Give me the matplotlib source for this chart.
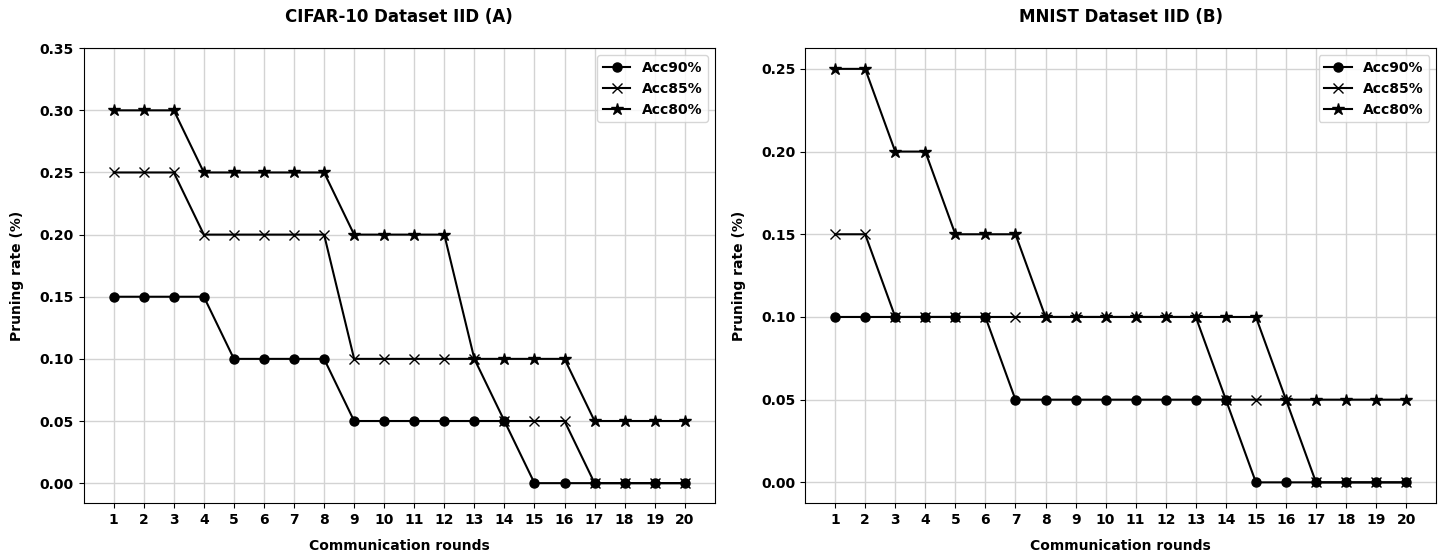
import matplotlib.pyplot as plt

rounds = list(range(1, 21))

# CIFAR-10 pruning rates
cifar_acc90 = [0.15, 0.15, 0.15, 0.15, 0.10, 0.10, 0.10, 0.10, 0.05, 0.05,
               0.05, 0.05, 0.05, 0.05, 0.00, 0.00, 0.00, 0.00, 0.00, 0.00]
cifar_acc85 = [0.25, 0.25, 0.25, 0.20, 0.20, 0.20, 0.20, 0.20, 0.10, 0.10,
               0.10, 0.10, 0.10, 0.05, 0.05, 0.05, 0.00, 0.00, 0.00, 0.00]
cifar_acc80 = [0.30, 0.30, 0.30, 0.25, 0.25, 0.25, 0.25, 0.25, 0.20, 0.20,
               0.20, 0.20, 0.10, 0.10, 0.10, 0.10, 0.05, 0.05, 0.05, 0.05]

# MNIST pruning rates
mnist_acc90 = [0.10, 0.10, 0.10, 0.10, 0.10, 0.10, 0.05, 0.05, 0.05, 0.05,
               0.05, 0.05, 0.05, 0.05, 0.00, 0.00, 0.00, 0.00, 0.00, 0.00]
mnist_acc85 = [0.15, 0.15, 0.10, 0.10, 0.10, 0.10, 0.10, 0.10, 0.10, 0.10,
               0.10, 0.10, 0.10, 0.05, 0.05, 0.05, 0.00, 0.00, 0.00, 0.00]
mnist_acc80 = [0.25, 0.25, 0.20, 0.20, 0.15, 0.15, 0.15, 0.10, 0.10, 0.10,
               0.10, 0.10, 0.10, 0.10, 0.10, 0.05, 0.05, 0.05, 0.05, 0.05]

labels = ['Acc90%', 'Acc85%', 'Acc80%']
markers = ['o', 'x', '*']
sizes = [6.5, 6.5, 9]


def draw(ax, series, title, ytop=None):
    for vals, lab, m, ms in zip(series, labels, markers, sizes):
        ax.plot(rounds, vals, color='black', marker=m, markersize=ms,
                linewidth=1.5, label=lab)
    ax.set_title(title, fontsize=12, fontweight='bold', pad=19)
    ax.set_xlabel('Communication rounds', fontsize=10, fontweight='bold', labelpad=9)
    ax.set_ylabel('Pruning rate (%)', fontsize=10, fontweight='bold', labelpad=11)
    ax.set_xticks(rounds)
    ax.set_xlim(0, 21)
    if ytop is not None:
        ax.set_ylim(-0.016, ytop)
    ax.grid(True, color='#d3d3d3', linewidth=1)
    ax.tick_params(labelsize=10)
    for t in ax.get_xticklabels() + ax.get_yticklabels():
        t.set_fontweight('bold')
    ax.legend(loc='upper right', prop={'weight': 'bold', 'size': 10})


fig, (ax1, ax2) = plt.subplots(1, 2, figsize=(14.42, 5.54), dpi=100)
draw(ax1, [cifar_acc90, cifar_acc85, cifar_acc80], 'CIFAR-10 Dataset IID (A)', ytop=0.35)
draw(ax2, [mnist_acc90, mnist_acc85, mnist_acc80], 'MNIST Dataset IID (B)')
ax1.set_yticks([0.0, 0.05, 0.10, 0.15, 0.20, 0.25, 0.30, 0.35])
ax2.set_yticks([0.0, 0.05, 0.10, 0.15, 0.20, 0.25])

fig.subplots_adjust(left=0.058, right=0.996, top=0.913, bottom=0.092, wspace=0.143)
fig.savefig('out.png')
